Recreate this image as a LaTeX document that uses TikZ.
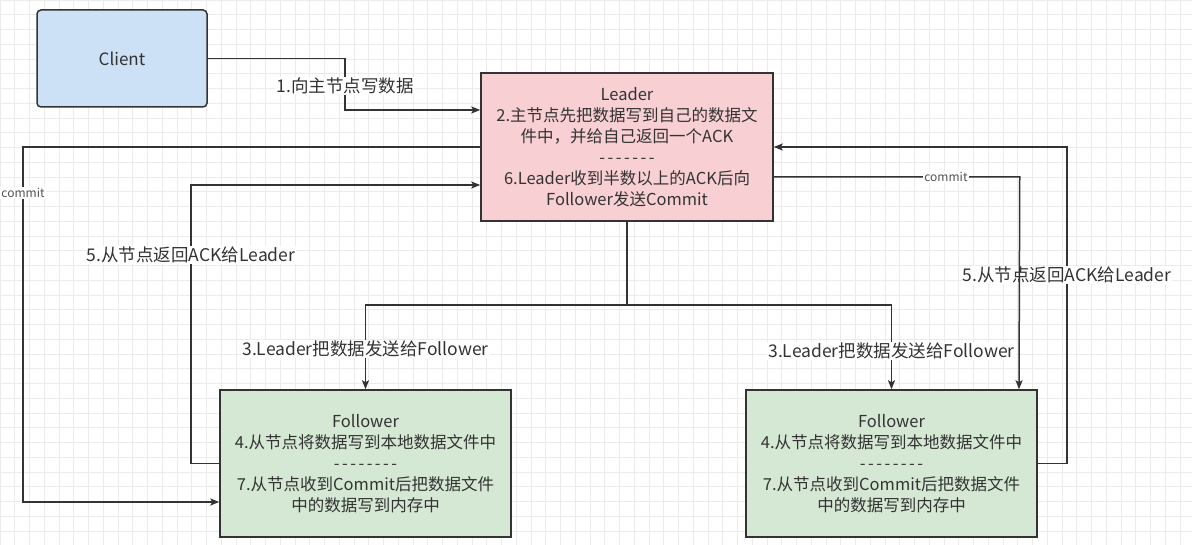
\documentclass[tikz,border=0pt]{standalone}
\usepackage{fontspec}
\setmainfont{Noto Sans CJK SC}[Ligatures=TeXOff]
\usetikzlibrary{arrows.meta}
\definecolor{linegray}{HTML}{333333}
\definecolor{gridgray}{HTML}{EBEBEB}
\definecolor{clientblue}{HTML}{CCE0F6}
\definecolor{leaderpink}{HTML}{F8CFD3}
\definecolor{followergreen}{HTML}{D5E8D4}
\newcommand{\dashrow}[1]{\foreach \i in {1,...,#1}{\ifnum\i>1\kern2.5pt\fi-}}
\tikzset{
	box/.style={draw=linegray, line width=1.5pt, text=linegray, align=center, inner sep=0pt, font=\fontsize{16.5}{21}\selectfont},
	flow/.style={draw=linegray, line width=1.5pt, -{Stealth[length=9pt,width=7pt,inset=2pt]}},
	lbl/.style={fill=white, text=linegray, inner sep=1pt, font=\fontsize{17.5}{21}\selectfont},
	clbl/.style={fill=white, text=linegray!85, inner sep=1pt, font=\fontsize{12}{14}\selectfont},
}

\begin{document}
\begin{tikzpicture}[x=1pt,y=-1pt]
		\useasboundingbox (0,0) rectangle (1192,545);
		\fill[white] (0,0) rectangle (1192,545);
		\foreach \gx in {0,14.75,...,1192} \draw[gridgray, line width=0.8pt] (\gx,0) -- (\gx,545);
		\foreach \gy in {0,14.75,...,545} \draw[gridgray, line width=0.8pt] (0,\gy) -- (1192,\gy);
		\node[box, fill=clientblue, rounded corners=4pt, minimum width=170pt, minimum height=97pt, font=\fontsize{17}{21}\selectfont] (client) at (122,58.5) {Client};
		\node[box, fill=leaderpink, minimum width=292pt, minimum height=148pt] (leader) at (627,147) {Leader\\2.主节点先把数据写到自己的数据文\\件中，并给自己返回一个ACK\\\dashrow{7}\\6.Leader收到半数以上的ACK后向\\Follower发送Commit};
		\node[box, fill=followergreen, minimum width=291pt, minimum height=147pt] (followerL) at (365.5,463.5) {Follower\\4.从节点将数据写到本地数据文件中\\\dashrow{8}\\7.从节点收到Commit后把数据文件\\中的数据写到内存中};
		\node[box, fill=followergreen, minimum width=291pt, minimum height=147pt] (followerR) at (891.5,463.5) {Follower\\4.从节点将数据写到本地数据文件中\\\dashrow{8}\\7.从节点收到Commit后把数据文件\\中的数据写到内存中};
		\draw[flow] (client.east) -| (345,86) node[lbl]{1.向主节点写数据} |- ([yshift=37pt]leader.west);
		\draw[flow] (leader.west) -| (23,193) node[clbl]{commit} |- ([yshift=-38.5pt]followerL.west);
		\draw[flow] (followerL.west) -| (191,255) node[lbl]{5.从节点返回ACK给Leader} |- ([yshift=-38pt]leader.west);
		\draw[flow] (leader.south) |- (365.5,305) -- (365.5,349) node[lbl]{3.Leader把数据发送给Follower} -- (followerL.north);
		\draw[flow] (leader.south) |- (891.5,305) -- (891.5,351) node[lbl]{3.Leader把数据发送给Follower} -- (followerR.north);
		\draw[flow] (followerR.east) -| (1067,275) node[lbl]{5.从节点返回ACK给Leader} |- (leader.east);
		\draw[flow] ([yshift=-30pt]leader.east) -- node[clbl, pos=0.7]{commit} ++(246,0) -- ([xshift=127.5pt]followerR.north);
	\end{tikzpicture}
\end{document}
